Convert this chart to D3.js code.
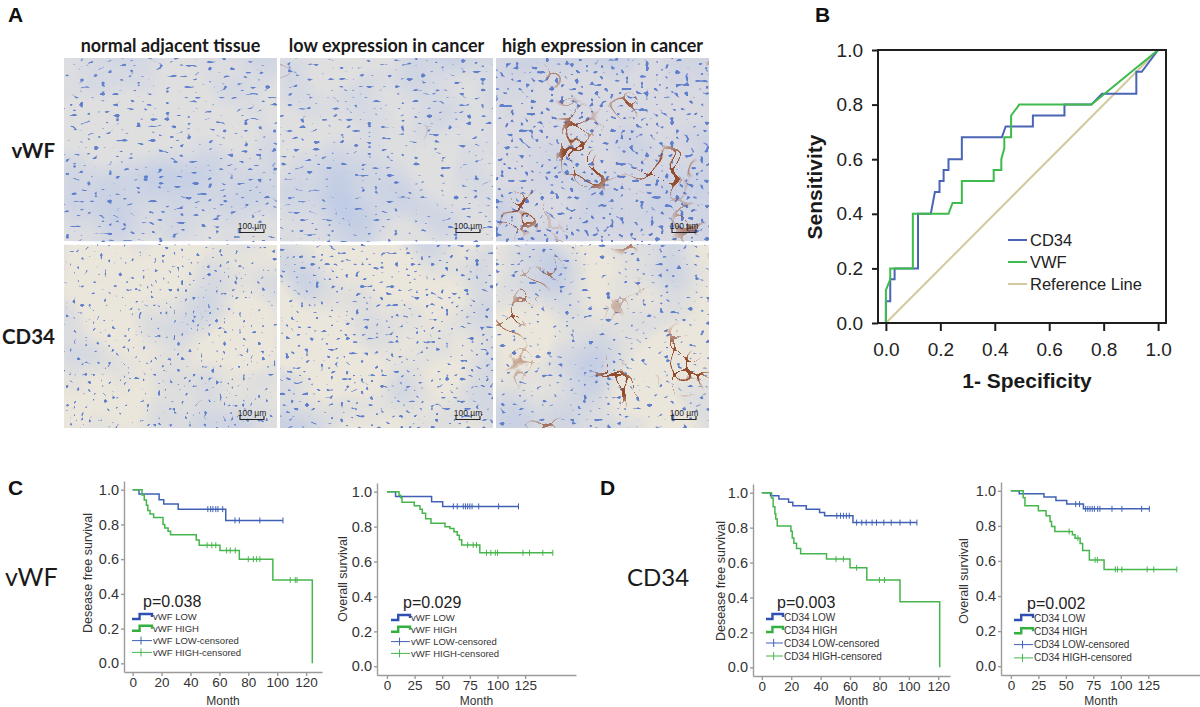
<!DOCTYPE html>
<html>
<head>
<meta charset="utf-8">
<script src="https://cdn.jsdelivr.net/npm/d3@7"></script>
<style>
  html, body { margin: 0; padding: 0; background: #fff; }
  svg { display: block; }
</style>
</head>
<body>
<div id="fig"></div>
<script>
// ---- panel A: staining grid
const imageColumns = ["normal adjacent tissue", "low expression in cancer", "high expression in cancer"];
const imageRows = ["vWF", "CD34"];
const scaleBarLabel = "100 µm";

// ---- panel B: ROC curves (1 - specificity, sensitivity)
const rocTicks = [0, 0.2, 0.4, 0.6, 0.8, 1.0];
const rocCD34 = [[0,0],[0,0.08],[0.016,0.08],[0.016,0.16],[0.032,0.16],[0.032,0.2],[0.118,0.2],[0.118,0.4],
  [0.165,0.4],[0.18,0.48],[0.197,0.48],[0.197,0.52],[0.212,0.52],[0.212,0.56],[0.23,0.56],[0.23,0.6],
  [0.279,0.6],[0.279,0.68],[0.426,0.68],[0.44,0.72],[0.54,0.72],[0.54,0.76],[0.656,0.76],[0.656,0.8],
  [0.755,0.8],[0.794,0.84],[0.92,0.84],[0.92,0.92],[0.94,0.92],[1,1]];
const rocVWF = [[0,0],[0,0.12],[0.016,0.16],[0.016,0.2],[0.099,0.2],[0.099,0.4],[0.23,0.4],[0.245,0.44],
  [0.279,0.44],[0.279,0.52],[0.396,0.52],[0.396,0.56],[0.424,0.56],[0.424,0.6],[0.435,0.64],[0.435,0.68],
  [0.46,0.68],[0.46,0.76],[0.49,0.8],[0.755,0.8],[1,1]];
const rocReference = [[0,0],[1,1]];
const rocLegend = ["CD34", "VWF", "Reference Line"];

// ---- panels C, D: Kaplan-Meier steps [month, survival]; censored months
const survivalTicks = [0, 0.2, 0.4, 0.6, 0.8, 1.0];
const monthTicksDfs = [0, 20, 40, 60, 80, 100, 120];
const monthTicksOs = [0, 25, 50, 75, 100, 125];

const vwfDfsLow = [[0,1],[4.4,0.975],[18.3,0.942],[21.5,0.917],[31.5,0.888],[64.4,0.823],[104,0.823]];
const vwfDfsLowCensored = [52,54,55.5,57.5,59,62.3,70.8,73.8,88,104];
const vwfDfsHigh = [[0,1],[6.5,0.97],[8,0.94],[9.5,0.91],[10.5,0.88],[12,0.86],[14.5,0.84],[21,0.80],
  [22.2,0.78],[24.5,0.76],[26.2,0.74],[44,0.71],[46,0.68],[60.4,0.65],[73.8,0.60],[97,0.48],[124.3,0]];
const vwfDfsHighCensored = [51.5,54.8,57.5,65,67.5,71,80,83.5,85.8,88,109,112.5,113.7];

const vwfOsLow = [[0,1],[7.8,0.973],[40.4,0.943],[50.4,0.916],[119,0.916]];
const vwfOsLowCensored = [60,63.6,69,71,73,75,77,83,101,119];
const vwfOsHigh = [[0,1],[10.9,0.98],[12.4,0.965],[13.6,0.94],[24.7,0.92],[29.9,0.90],[32,0.877],[35,0.845],
  [39.8,0.82],[52.5,0.80],[57,0.79],[60.6,0.77],[63.6,0.75],[65.5,0.725],[67.6,0.695],[84,0.65],[150,0.65]];
const vwfOsHighCensored = [73,78,81,90,94,98,100,123,129,141,150];

const cd34DfsLow = [[0,1],[5.9,0.983],[11.6,0.964],[18.2,0.946],[21.1,0.925],[30.2,0.906],[39.3,0.887],
  [42.7,0.868],[62,0.829],[105.5,0.829]];
const cd34DfsLowCensored = [51,53.5,55.5,57.5,59.5,64.5,68,71,75,78,83,88,94,101,105.5];
const cd34DfsHigh = [[0,1],[6.6,0.97],[7.7,0.92],[8.9,0.88],[9.5,0.85],[10.5,0.81],[19.8,0.78],[20.7,0.74],
  [21.8,0.71],[23.6,0.68],[26.4,0.65],[44,0.62],[60,0.57],[71.4,0.50],[94,0.375],[121,0]];
const cd34DfsHighCensored = [50.5,55.5,64.5,80,83.4];

const cd34OsLow = [[0,1],[7.6,0.983],[30.1,0.964],[41,0.945],[50.8,0.924],[66,0.897],[126,0.897]];
const cd34OsLowCensored = [59,62.5,68,70,72,74,76,79,81,92,101,119,126];
const cd34OsHigh = [[0,1],[11.2,0.96],[12.8,0.914],[25,0.886],[32,0.857],[35.6,0.825],[37,0.796],[40,0.768],
  [56,0.75],[58.4,0.73],[63,0.70],[65.3,0.66],[71.4,0.606],[84.8,0.552],[151,0.552]];
const cd34OsHighCensored = [53,61,76.6,78.7,95,97,101,124,130,151];

const pValues = ["p=0.038", "p=0.029", "p=0.003", "p=0.002"];

// ---------------------------------------------------------------
const W = 1200, H = 707;
const sans = "'Liberation Sans', Arial, sans-serif";
const lato = "Lato, 'Open Sans', sans-serif";

const svg = d3.select("#fig").append("svg")
  .attr("width", W).attr("height", H)
  .attr("viewBox", `0 0 ${W} ${H}`);
svg.append("rect").attr("width", W).attr("height", H).attr("fill", "#fff");
const defs = svg.append("defs");

// panel letters
[["A", 8, 22], ["B", 815, 22], ["C", 8, 495], ["D", 600, 495]].forEach(([t, x, y]) => {
  svg.append("text").attr("x", x).attr("y", y).text(t)
    .style("font", `bold 21px ${sans}`).attr("fill", "#111");
});

// ---------------- Panel A ----------------
const colX = d3.scaleBand().domain(imageColumns).range([64, 709]).paddingInner(0.014);
const rowY = d3.scaleBand().domain(imageRows).range([58, 428]).paddingInner(0.021);

// texture look per cell: nuclei threshold (higher = sparser), vessel bias (lower = more brown)
const nucThreshold = [[10.5, 10.7, 10.0], [10.6, 10.4, 10.6]];
const vesselBias = [[6.7, 5.9, 4.4], [6.9, 6.2, 4.5]];
const nucFreq = [["0.14 0.28", "0.15 0.27", "0.20 0.24"], ["0.26 0.26", "0.20 0.27", "0.17 0.27"]];

function makeTexture(id, seed, nt, vb, nf) {
  const f = defs.append("filter").attr("id", id)
    .attr("x", 0).attr("y", 0).attr("width", 1).attr("height", 1)
    .attr("color-interpolation-filters", "sRGB");
  f.append("feTurbulence").attr("type", "fractalNoise").attr("baseFrequency", "0.013")
    .attr("numOctaves", 2).attr("seed", seed).attr("result", "n1");
  f.append("feColorMatrix").attr("in", "n1").attr("type", "matrix")
    .attr("values", "0 0 0 0 0.74  0 0 0 0 0.79  0 0 0 0 0.90  2.0 0 0 0 -0.85").attr("result", "wash");
  f.append("feTurbulence").attr("type", "fractalNoise").attr("baseFrequency", nf)
    .attr("numOctaves", 1).attr("seed", seed + 11).attr("result", "n2");
  f.append("feColorMatrix").attr("in", "n2").attr("type", "matrix")
    .attr("values", `0 0 0 0 0.38  0 0 0 0 0.50  0 0 0 0 0.80  16 0 0 0 ${-nt}`).attr("result", "nuc");
  f.append("feTurbulence").attr("type", "turbulence").attr("baseFrequency", "0.04")
    .attr("numOctaves", 1).attr("seed", seed + 23).attr("result", "n3");
  f.append("feColorMatrix").attr("in", "n3").attr("type", "matrix")
    .attr("values", "0 0 0 0 0.58  0 0 0 0 0.30  0 0 0 0 0.18  -45 0 0 0 1.3").attr("result", "ves");
  f.append("feTurbulence").attr("type", "fractalNoise").attr("baseFrequency", "0.02")
    .attr("numOctaves", 1).attr("seed", seed + 37).attr("result", "n4");
  f.append("feColorMatrix").attr("in", "n4").attr("type", "matrix")
    .attr("values", `0 0 0 0 0  0 0 0 0 0  0 0 0 0 0  8 0 0 0 ${-vb}`).attr("result", "vmask");
  f.append("feComposite").attr("in", "ves").attr("in2", "vmask").attr("operator", "in").attr("result", "vessels");
  const m = f.append("feMerge");
  ["SourceGraphic", "wash", "nuc", "vessels"].forEach(n => m.append("feMergeNode").attr("in", n));
}

const gA = svg.append("g");
imageRows.forEach((r, ri) => {
  imageColumns.forEach((c, ci) => {
    const id = `tex-${ri}-${ci}`;
    makeTexture(id, 5 + ri * 3 + ci * 7, nucThreshold[ri][ci], vesselBias[ri][ci], nucFreq[ri][ci]);
    const x0 = colX(c), y0 = rowY(r), w = colX.bandwidth(), h = rowY.bandwidth();
    gA.append("rect").attr("x", x0).attr("y", y0).attr("width", w).attr("height", h)
      .attr("fill", ri === 0 ? (ci === 2 ? "#d8d9e1" : "#dfdfe0") : "#ebe6db")
      .attr("filter", `url(#${id})`);
    // scale bar
    const right = x0 + w, bottom = y0 + h;
    gA.append("text").attr("x", right - 25).attr("y", bottom - 12.5)
      .attr("text-anchor", "middle").text(scaleBarLabel)
      .style("font", `8.5px ${sans}`).attr("fill", "#222");
    gA.append("path")
      .attr("d", `M${right - 37},${bottom - 12} V${bottom - 8.5} H${right - 13} V${bottom - 12}`)
      .attr("fill", "none").attr("stroke", "#222").attr("stroke-width", 1.1);
  });
});
imageColumns.forEach(c => {
  gA.append("text").attr("x", colX(c) + colX.bandwidth() / 2).attr("y", 52)
    .attr("text-anchor", "middle").text(c)
    .style("font", `bold 18px ${lato}`).attr("fill", "#1a1a1a");
});
imageRows.forEach(r => {
  gA.append("text").attr("x", 55).attr("y", rowY(r) + rowY.bandwidth() / 2 + 8)
    .attr("text-anchor", "end").text(r)
    .style("font", `bold 20.5px ${lato}`).attr("fill", "#1a1a1a");
});

// ---------------- Panel B: ROC ----------------
const rocBlue = "#4a64b6", rocGreen = "#3fba4c", rocRef = "#d3c99e";
const rx = d3.scaleLinear().domain([-0.029, 1.029]).range([878, 1166]);
const ry = d3.scaleLinear().domain([0, 1]).range([323, 50]);
const gB = svg.append("g");
const rocLine = d3.line().x(d => rx(d[0])).y(d => ry(d[1]));
[[rocReference, rocRef], [rocCD34, rocBlue], [rocVWF, rocGreen]].forEach(([d, col]) => {
  gB.append("path").datum(d).attr("d", rocLine)
    .attr("fill", "none").attr("stroke", col).attr("stroke-width", 2);
});
gB.append("rect").attr("x", 878).attr("y", 50).attr("width", 288).attr("height", 273)
  .attr("fill", "none").attr("stroke", "#1e1e1e").attr("stroke-width", 2);
const rYAxis = gB.append("g").attr("transform", "translate(878,0)")
  .call(d3.axisLeft(ry).tickValues(rocTicks).tickFormat(d3.format(".1f")).tickSize(6).tickPadding(9).tickSizeOuter(0));
const rXAxis = gB.append("g").attr("transform", "translate(0,323)")
  .call(d3.axisBottom(rx).tickValues(rocTicks).tickFormat(d3.format(".1f")).tickSize(8).tickPadding(12).tickSizeOuter(0));
[rYAxis, rXAxis].forEach(a => {
  a.select(".domain").remove();
  a.selectAll("line").attr("stroke", "#1e1e1e").attr("stroke-width", 2);
  a.selectAll("text").attr("fill", "#222").style("font", `19px ${sans}`);
});
gB.append("text").attr("transform", "translate(822,187) rotate(-90)")
  .attr("text-anchor", "middle").text("Sensitivity")
  .style("font", `bold 21px ${sans}`).attr("fill", "#1a1a1a");
gB.append("text").attr("x", 1027).attr("y", 388)
  .attr("text-anchor", "middle").text("1- Specificity")
  .style("font", `bold 21px ${sans}`).attr("fill", "#1a1a1a");
const rocLegendY = d3.scalePoint().domain(rocLegend).range([240, 284]);
rocLegend.forEach((name, i) => {
  const col = [rocBlue, rocGreen, rocRef][i];
  gB.append("line").attr("x1", 1008).attr("x2", 1027)
    .attr("y1", rocLegendY(name)).attr("y2", rocLegendY(name))
    .attr("stroke", col).attr("stroke-width", 2);
  gB.append("text").attr("x", 1030).attr("y", rocLegendY(name)).attr("dy", "0.36em")
    .text(name).style("font", `16.5px ${sans}`).attr("fill", "#222");
});

// ---------------- Panels C, D: Kaplan-Meier ----------------
const kmBlue = "#3f60b5", kmGreen = "#46b54c";
const legBlue = "#2f50b2", legGreen = "#34b041";

svg.append("text").attr("x", 5).attr("y", 586).text("vWF")
  .style("font", `25px ${lato}`).attr("fill", "#1a1a1a");
svg.append("text").attr("x", 627).attr("y", 586).text("CD34")
  .style("font", `24px ${lato}`).attr("fill", "#1a1a1a");

const kmPanels = [
  { frame: { left: 124, right: 322, top: 481, bottom: 672 }, xDomain: [-6, 131], xTicks: monthTicksDfs,
    yTitle: "Desease free survival", yTitlePos: [88, 573], marker: "vWF",
    low: vwfDfsLow, lowC: vwfDfsLowCensored, high: vwfDfsHigh, highC: vwfDfsHighCensored,
    p: pValues[0], pPos: [143, 607], leg: { x: 132, y: 617, dy: 11.8, w: 20, font: 9.5 } },
  { frame: { left: 377, right: 576, top: 483, bottom: 675 }, xDomain: [-9, 171], xTicks: monthTicksOs,
    yTitle: "Overall survival", yTitlePos: [343, 579], marker: "vWF",
    low: vwfOsLow, lowC: vwfOsLowCensored, high: vwfOsHigh, highC: vwfOsHighCensored,
    p: pValues[1], pPos: [403, 608], leg: { x: 391, y: 618, dy: 11.8, w: 19, font: 9.5 } },
  { frame: { left: 753, right: 950, top: 484, bottom: 676 }, xDomain: [-6, 128], xTicks: monthTicksDfs,
    yTitle: "Desease free survival", yTitlePos: [721, 581], marker: "CD34",
    low: cd34DfsLow, lowC: cd34DfsLowCensored, high: cd34DfsHigh, highC: cd34DfsHighCensored,
    p: pValues[2], pPos: [777, 608], leg: { x: 766, y: 617, dy: 13, w: 17, font: 10 } },
  { frame: { left: 1001, right: 1201, top: 482, bottom: 675 }, xDomain: [-9, 173], xTicks: monthTicksOs,
    yTitle: "Overall survival", yTitlePos: [964, 581], marker: "CD34",
    low: cd34OsLow, lowC: cd34OsLowCensored, high: cd34OsHigh, highC: cd34OsHighCensored,
    p: pValues[3], pPos: [1027, 609], leg: { x: 1014, y: 618, dy: 13.3, w: 19, font: 10 } }
];

function stepAt(steps, t) {
  let s = steps[0][1];
  steps.forEach(([tt, v]) => { if (tt <= t) s = v; });
  return s;
}

kmPanels.forEach(p => {
  const g = svg.append("g");
  const x = d3.scaleLinear().domain(p.xDomain).range([p.frame.left, p.frame.right]);
  const y = d3.scaleLinear().domain([-0.05, 1.05]).range([p.frame.bottom, p.frame.top]);

  const yAxis = g.append("g").attr("transform", `translate(${p.frame.left},0)`)
    .call(d3.axisLeft(y).tickValues(survivalTicks).tickFormat(d3.format(".1f")).tickSize(3).tickPadding(2).tickSizeOuter(0));
  const xAxis = g.append("g").attr("transform", `translate(0,${p.frame.bottom})`)
    .call(d3.axisBottom(x).tickValues(p.xTicks).tickSize(4).tickPadding(1).tickSizeOuter(0));
  [yAxis, xAxis].forEach(a => {
    a.selectAll("path, line").attr("stroke", "#9b9b9b").attr("stroke-width", 1.4);
  });
  yAxis.selectAll("text").attr("fill", "#333").style("font", `14.5px ${sans}`);
  xAxis.selectAll("text").attr("fill", "#333").style("font", `13.5px ${sans}`);

  const line = d3.line().x(d => x(d[0])).y(d => y(d[1])).curve(d3.curveStepAfter);
  [[p.low, p.lowC, kmBlue], [p.high, p.highC, kmGreen]].forEach(([steps, cens, col]) => {
    g.append("path").datum(steps).attr("d", line)
      .attr("fill", "none").attr("stroke", col).attr("stroke-width", 1.5);
    g.append("g").selectAll("line").data(cens).join("line")
      .attr("x1", d => x(d)).attr("x2", d => x(d))
      .attr("y1", d => y(stepAt(steps, d)) - 3).attr("y2", d => y(stepAt(steps, d)) + 3)
      .attr("stroke", col).attr("stroke-width", 1);
  });

  g.append("text").attr("transform", `translate(${p.yTitlePos[0]},${p.yTitlePos[1]}) rotate(-90)`)
    .attr("text-anchor", "middle").attr("dy", "0.35em").text(p.yTitle)
    .style("font", `12.5px ${sans}`).attr("fill", "#333");
  g.append("text").attr("x", (p.frame.left + p.frame.right) / 2).attr("y", 704.5)
    .attr("text-anchor", "middle").text("Month")
    .style("font", `12px ${sans}`).attr("fill", "#333");
  g.append("text").attr("x", p.pPos[0]).attr("y", p.pPos[1]).text(p.p)
    .style("font", `16px ${sans}`).attr("fill", "#222");

  const m = p.marker;
  const items = [
    { label: `${m} LOW`, kind: "step", col: legBlue },
    { label: `${m} HIGH`, kind: "step", col: legGreen },
    { label: `${m} LOW-censored`, kind: "cens", col: kmBlue },
    { label: `${m} HIGH-censored`, kind: "cens", col: kmGreen }
  ];
  const L = p.leg;
  items.forEach((it, i) => {
    const ly = L.y + i * L.dy;
    if (it.kind === "step") {
      g.append("path")
        .attr("d", `M${L.x},${ly + 2} H${L.x + L.w * 0.38} V${ly - 3} H${L.x + L.w} V${ly}`)
        .attr("fill", "none").attr("stroke", it.col).attr("stroke-width", 2.4);
    } else {
      g.append("path")
        .attr("d", `M${L.x},${ly} H${L.x + L.w} M${L.x + L.w * 0.45},${ly - 4} V${ly + 4}`)
        .attr("fill", "none").attr("stroke", it.col).attr("stroke-width", 1);
    }
    g.append("text").attr("x", L.x + L.w + 1).attr("y", ly).attr("dy", "0.35em")
      .text(it.label).style("font", `${L.font}px ${sans}`).attr("fill", "#333");
  });
});
</script>
</body>
</html>
